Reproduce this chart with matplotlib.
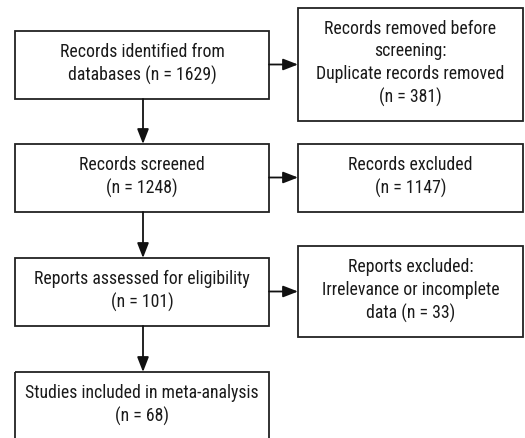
import matplotlib
matplotlib.use('Agg')
import matplotlib.pyplot as plt
from matplotlib.patches import Rectangle
from matplotlib import font_manager

# main column (left) and exclusion column (right)
main_labels = ["Records identified from\ndatabases (n = {})",
               "Records screened\n(n = {})",
               "Reports assessed for eligibility\n(n = {})",
               "Studies included in meta-analysis\n(n = {})"]
main_counts = [1629, 1248, 101, 68]

side_labels = ["Records removed before\nscreening:\nDuplicate records removed\n(n = {})",
               "Records excluded\n(n = {})",
               "Reports excluded:\nIrrelevance or incomplete\ndata (n = {})"]
side_counts = [381, 1147, 33]

# box geometry in pixels (top, bottom)
main_rows = [(31, 99), (144, 212), (258, 326), (372, 442)]
side_rows = [(8, 121), (144, 212), (246, 337)]
main_x = (15, 269)
side_x = (298, 523)

names = {f.name for f in font_manager.fontManager.ttflist}
family = [f for f in ('Roboto Condensed', 'Archivo Narrow', 'Liberation Sans') if f in names]
plt.rcParams['font.family'] = family + ['DejaVu Sans']

fig = plt.figure(figsize=(5.25, 4.38), dpi=100)
ax = fig.add_axes([0, 0, 1, 1])
ax.set_xlim(0, 525)
ax.set_ylim(438, 0)
ax.axis('off')

edge = '#222222'


def box(x0, x1, y0, y1, text, dy=0):
    ax.add_patch(Rectangle((x0, y0), x1 - x0, y1 - y0, fill=False,
                           edgecolor=edge, linewidth=1.3))
    ax.text((x0 + x1) / 2, (y0 + y1) / 2 + dy, text, ha='center', va='center',
            fontsize=12.8, color='#1a1a1a', linespacing=1.33)


for i, (lab, n) in enumerate(zip(main_labels, main_counts)):
    y0, y1 = main_rows[i]
    dy = -1 if i < 3 else -2
    box(main_x[0], main_x[1], y0, y1, lab.format(n), dy)

for i, (lab, n) in enumerate(zip(side_labels, side_counts)):
    y0, y1 = side_rows[i]
    box(side_x[0], side_x[1], y0, y1, lab.format(n), -1)

arrow = dict(arrowstyle='-|>,head_length=0.9,head_width=0.35', color='#111111',
             linewidth=1.3, shrinkA=0, shrinkB=0)
cx = (main_x[0] + main_x[1]) / 2 + 1
for (t0, b0), (t1, b1) in zip(main_rows[:-1], main_rows[1:]):
    ax.annotate('', xy=(cx, t1), xytext=(cx, b0), arrowprops=arrow)

for (t0, b0) in main_rows[:3]:
    y = (t0 + b0) / 2 - 0.5
    ax.annotate('', xy=(side_x[0], y), xytext=(main_x[1], y), arrowprops=arrow)

fig.savefig('out.png', dpi=100, facecolor='white')
